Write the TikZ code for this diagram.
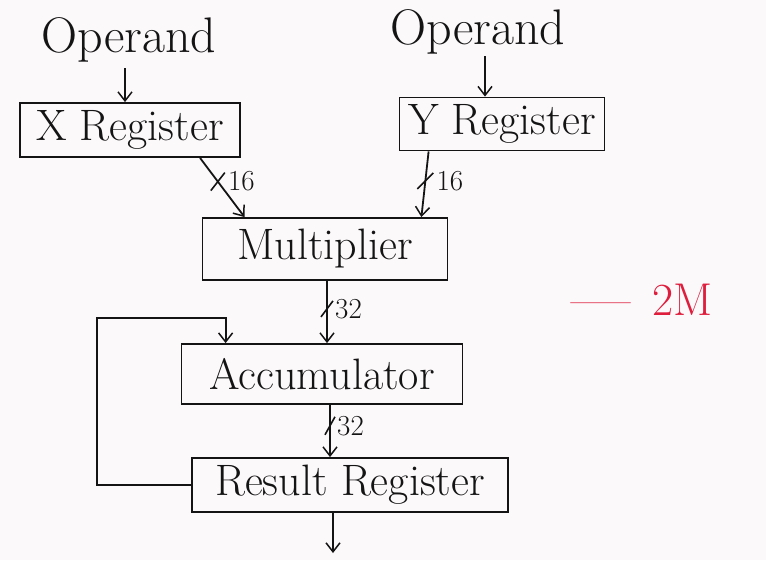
\documentclass[tikz,border=0pt]{standalone}
\usepackage{fontspec}
\usepackage{graphicx}
\setmainfont{Latin Modern Roman}
\usetikzlibrary{arrows.meta,calc}
\definecolor{bg}{RGB}{252,249,251}
\definecolor{ink}{RGB}{20,20,20}
\definecolor{redink}{RGB}{222,30,60}
\tikzset{
  blk/.style={draw=ink, line width=1.8pt, inner sep=0pt, font=\fontsize{44}{48}\selectfont, text=ink},
  lbl/.style={font=\fontsize{50}{54}\selectfont, text=ink, inner sep=0pt},
  wlbl/.style={font=\fontsize{29}{32}\selectfont, text=ink, inner sep=1pt},
  arr/.style={draw=ink, line width=1.8pt, -{Straight Barb[length=9pt,width=14pt,line width=1.5pt]}},
  tick/.style={draw=ink, line width=1.6pt}
}
\begin{document}
\begin{tikzpicture}[x=1pt,y=-1pt]
\fill[bg] (0,0) rectangle (766,560);
\useasboundingbox (0,0) rectangle (766,560);
% nodes
\node[lbl] (opL) at (129,40) {Operand};
\node[lbl] (opR) at (478,32) {Operand};
\node[blk, minimum width=220pt, minimum height=54pt] (xreg) at (130,130) {X Register};
\node[blk, minimum width=205pt, minimum height=53pt] (yreg) at (502,124) {Y Register};
\node[blk, minimum width=245pt, minimum height=62pt] (mult) at (325,249) {Multiplier};
\node[blk, minimum width=281pt, minimum height=60pt] (acc) at (322,374) {Accumulator};
\node[blk, minimum width=316pt, minimum height=54pt] (res) at (350,485) {Result Register};
\coordinate (out) at (333,553);
\coordinate (fbl) at (97,318);
% anchor points
\coordinate (a0) at (125,68);
\coordinate (a1) at (485,56);
\coordinate (a2) at ($(mult.south)+(2,0)$);
\coordinate (a3) at ($(acc.south)+(8,0)$);
\coordinate (a4) at ($(res.south)+(-17,0)$);
\coordinate (a5) at ($(acc.north west)+(45,0)$);
% operand arrows
\draw[arr] (a0) -- (a0 |- xreg.north);
\draw[arr] (a1) -- (a1 |- yreg.north);
% register to multiplier
\draw[arr] ($(xreg.south)+(70,0)$) -- coordinate[pos=0.4] (t1) ($(mult.north west)+(43,0)$);
\draw[tick] ($(t1)+(-7,9)$) -- ($(t1)+(7,-9)$);
\node[wlbl, anchor=west] (w1) at ($(t1)+(9,0)$) {16};
\draw[arr] ($(yreg.south west)+(30,0)$) -- coordinate[pos=0.45] (t2) ($(mult.north east)+(-27,0)$);
\draw[tick] ($(t2)+(-8,8)$) -- ($(t2)+(8,-8)$);
\node[wlbl, anchor=west] (w2) at ($(t2)+(10,0)$) {16};
% multiplier to accumulator
\draw[arr] (a2) -- coordinate[pos=0.45] (t3) (a2 |- acc.north);
\draw[tick] ($(t3)+(-6,8)$) -- ($(t3)+(6,-8)$);
\node[wlbl, anchor=west] (w3) at ($(t3)+(7,0)$) {32};
% accumulator to result
\draw[arr] (a3) -- coordinate[pos=0.4] (t4) (a3 |- res.north);
\draw[tick] ($(t4)+(-5,9)$) -- ($(t4)+(5,-9)$);
\node[wlbl, anchor=west] (w4) at ($(t4)+(6,0)$) {32};
% feedback
\draw[arr] (res.west) -| (fbl) -| (a5);
% output
\draw[arr] (a4) -- (out);
% marks
\node[font=\fontsize{46}{50}\selectfont, text=redink, inner sep=0pt] (mk) at (642,300) {\scalebox{1.4}[1]{---}\hspace{22pt}2M};
\end{tikzpicture}
\end{document}
